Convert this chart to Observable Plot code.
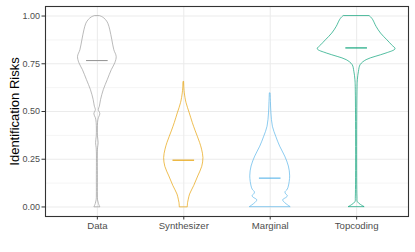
<!DOCTYPE html>
<html>
<head>
<meta charset="utf-8">
<script src="https://cdn.jsdelivr.net/npm/d3@7"></script>
<script src="https://cdn.jsdelivr.net/npm/@observablehq/plot@0.6"></script>
<style>
  html, body { margin: 0; padding: 0; background: #fff; }
</style>
</head>
<body>
<div id="chart"></div>
<script>
// Categories, colours and medians
const categories = ["Data", "Synthesizer", "Marginal", "Topcoding"];
const colors = ["#999999", "#E69F00", "#56B4E9", "#009E73"];
const medians = [0.767, 0.245, 0.151, 0.833];
const yTicks = [0, 0.25, 0.5, 0.75, 1];
const yMinor = [0.125, 0.375, 0.625, 0.875];

// Violin profiles: risk level and relative density (1 = widest violin)
const dataRisk = [0, 0.015, 0.035, 0.06, 0.15, 0.30, 0.335, 0.37, 0.44, 0.465, 0.485, 0.508, 0.525, 0.56, 0.613, 0.665, 0.717, 0.753, 0.786, 0.821, 0.873, 0.925, 0.96, 0.98, 0.993, 1.0];
const dataDensity = [0.072, 0.041, 0.018, 0.013, 0.013, 0.015, 0.033, 0.015, 0.018, 0.038, 0.077, 0.038, 0.064, 0.095, 0.167, 0.269, 0.372, 0.462, 0.497, 0.436, 0.385, 0.333, 0.282, 0.218, 0.141, 0.064];

const synthRisk = [0, 0.02, 0.038, 0.065, 0.11, 0.16, 0.21, 0.256, 0.30, 0.335, 0.368, 0.40, 0.44, 0.49, 0.545, 0.595, 0.62, 0.655];
const synthDensity = [0.103, 0.110, 0.128, 0.162, 0.269, 0.372, 0.474, 0.505, 0.47, 0.42, 0.36, 0.30, 0.231, 0.154, 0.069, 0.026, 0.015, 0.008];

const margRisk = [0, 0.008, 0.02, 0.035, 0.048, 0.056, 0.066, 0.076, 0.09, 0.107, 0.16, 0.212, 0.264, 0.316, 0.368, 0.42, 0.49, 0.55, 0.595];
const margDensity = [0.518, 0.462, 0.385, 0.333, 0.423, 0.456, 0.41, 0.392, 0.449, 0.479, 0.513, 0.479, 0.385, 0.256, 0.154, 0.069, 0.031, 0.018, 0.010];

const topRisk = [0, 0.01, 0.025, 0.05, 0.60, 0.664, 0.708, 0.743, 0.769, 0.786, 0.804, 0.826, 0.847, 0.873, 0.908, 0.943, 0.978, 0.99, 1.0];
const topDensity = [0.197, 0.115, 0.031, 0.021, 0.021, 0.031, 0.059, 0.103, 0.256, 0.487, 0.769, 1.0, 0.91, 0.79, 0.628, 0.513, 0.428, 0.385, 0.333];

const profiles = [
  [dataRisk, dataDensity],
  [synthRisk, synthDensity],
  [margRisk, margDensity],
  [topRisk, topDensity]
];

const halfMax = 0.45;   // ggplot violin width 0.9
const medHalf = 0.125;

const violinMarks = profiles.map(([rs, ds], i) => {
  const rows = rs.map((r, j) => ({g: i + 1, v: r, w: ds[j]}));
  return Plot.areaX(rows, {
    y: "v",
    x1: d => d.g - d.w * halfMax,
    x2: d => d.g + d.w * halfMax,
    fill: "none",
    stroke: colors[i],
    strokeWidth: 0.8,
    strokeOpacity: 0.85,
    curve: "catmull-rom"
  });
});

const medRows = categories.map((c, i) => ({g: i + 1, m: medians[i], c: colors[i]}));

const chart = Plot.plot({
  width: 415,
  height: 252,
  marginLeft: 45,
  marginRight: 7,
  marginTop: 6,
  marginBottom: 36,
  style: {fontFamily: "Liberation Sans, Arial, Helvetica, sans-serif", background: "#fff", color: "#4D4D4D"},
  x: {type: "linear", domain: [0.4, 4.6]},
  y: {type: "linear", domain: [-0.05, 1.05]},
  marks: [
    Plot.gridY(yMinor, {stroke: "#EBEBEB", strokeOpacity: 1, strokeWidth: 0.55}),
    Plot.gridY(yTicks, {stroke: "#EBEBEB", strokeOpacity: 1, strokeWidth: 1.05}),
    Plot.gridX([1, 2, 3, 4], {stroke: "#EBEBEB", strokeOpacity: 1, strokeWidth: 1.05}),
    ...violinMarks,
    Plot.ruleY(medRows, {y: "m", x1: d => d.g - medHalf, x2: d => d.g + medHalf, stroke: "c", strokeWidth: 1.1}),
    Plot.frame({stroke: "#333333", strokeWidth: 1.1}),
    Plot.axisY(yTicks, {tickFormat: d3.format(".2f"), tickSize: 3.5, tickPadding: 2, fontSize: 9, stroke: "#333333", color: "#4D4D4D", label: null}),
    Plot.axisY([], {label: "Identification Risks", labelAnchor: "center", labelArrow: "none", labelOffset: 36, fontSize: 13, color: "#000", tickSize: 0}),
    Plot.axisX([1, 2, 3, 4], {tickFormat: d => categories[d - 1], tickSize: 3.5, tickPadding: 2.2, fontSize: 9.6, stroke: "#333333", color: "#4D4D4D", label: null})
  ]
});
document.getElementById("chart").appendChild(chart);
</script>
</body>
</html>
